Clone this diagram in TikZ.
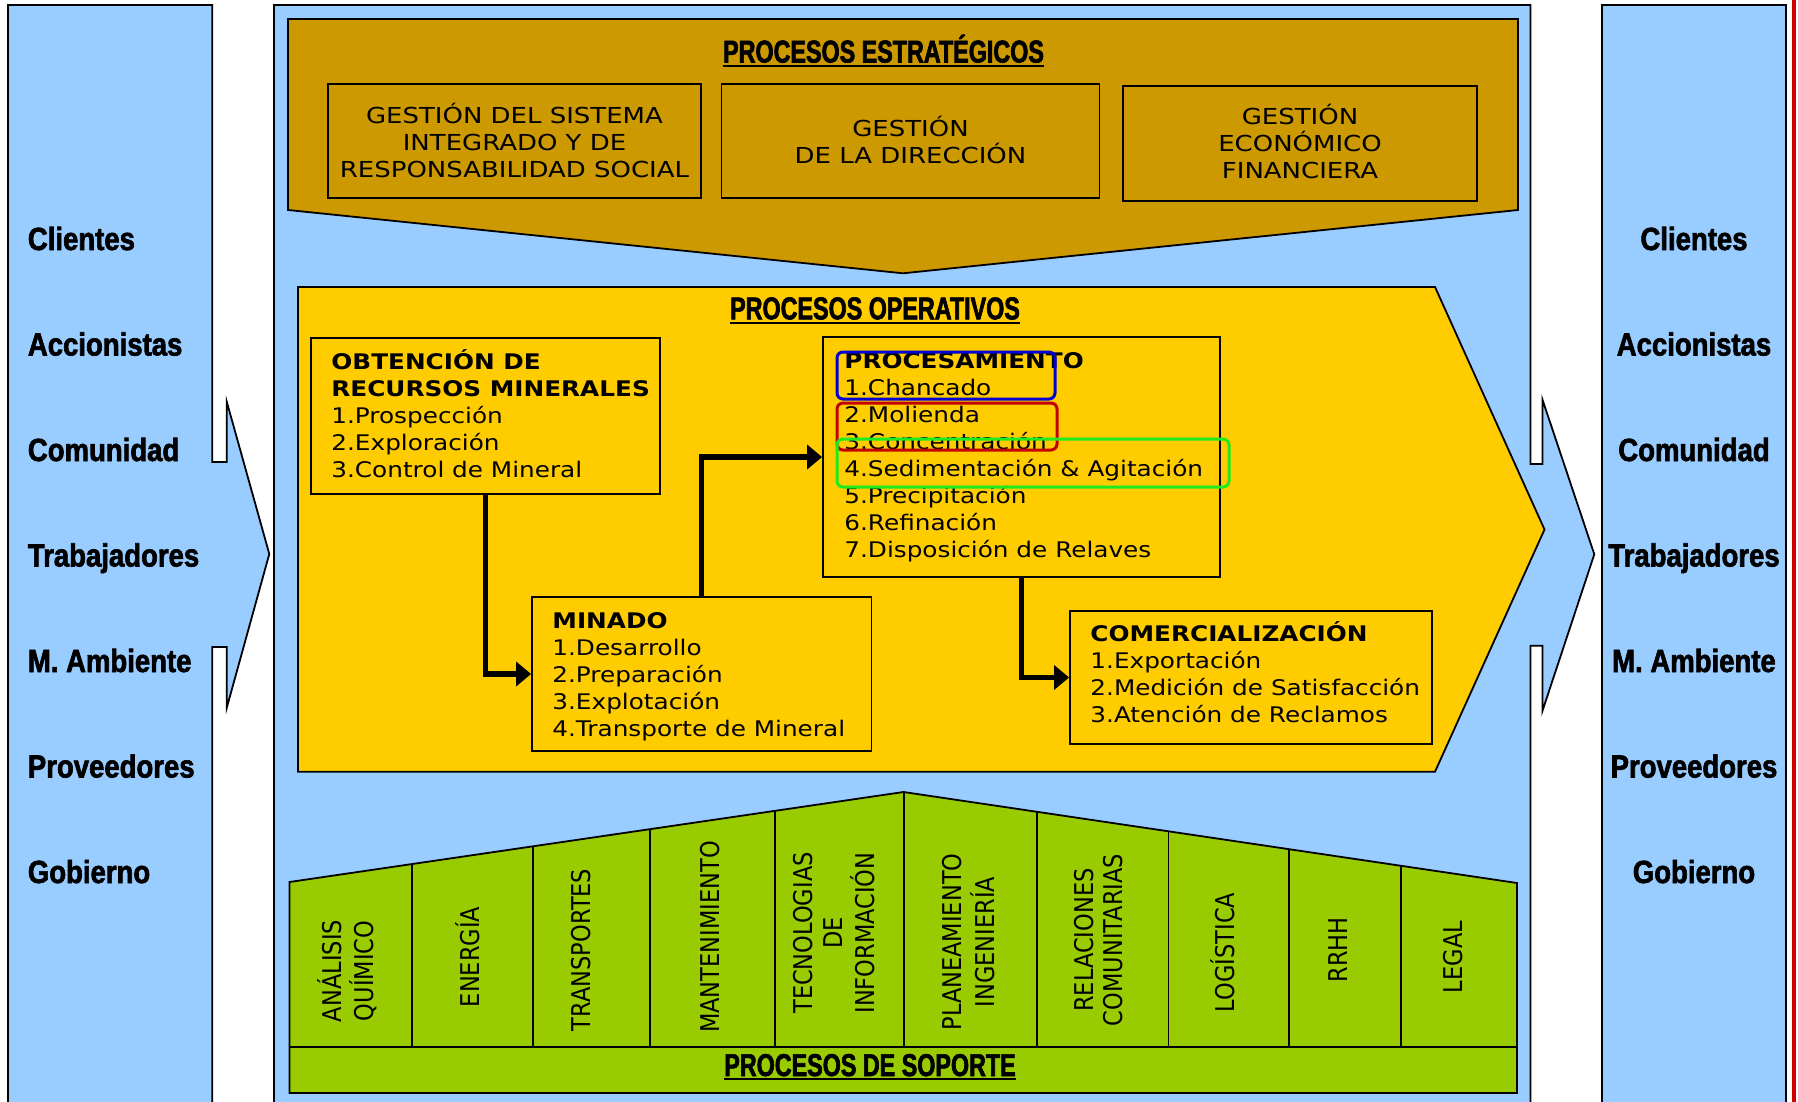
\documentclass[tikz,border=0pt]{standalone}
\usepackage{fontspec}
\usepackage{graphicx}
\usetikzlibrary{arrows.meta,fit}
\newfontfamily\vfont{DejaVu Sans}[FakeStretch=1.15]
\newfontfamily\gfont{DejaVu Sans}[FakeStretch=1.18]
\newfontfamily\rfont{DejaVu Sans}
\newfontfamily\impA{Liberation Sans}[FakeStretch=0.86, FakeBold=2]
\newfontfamily\impB{Liberation Sans}[FakeStretch=0.74, FakeBold=2]
\newcommand\suptxt[1]{\scalebox{1}[1.15]{\begin{tabular}{@{}c@{}}#1\end{tabular}}}
\definecolor{skyb}{HTML}{99CCFF}
\definecolor{brownc}{HTML}{CC9900}
\definecolor{yell}{HTML}{FFCC00}
\definecolor{grn}{HTML}{99CC00}
\definecolor{redl}{HTML}{CC0000}
\definecolor{hblue}{RGB}{0,0,210}
\definecolor{hred}{RGB}{195,0,0}
\definecolor{hgreen}{RGB}{30,235,30}
\begin{document}
\begin{tikzpicture}[x=0.5pt,y=-0.5pt,
  panel/.style={draw=black,line width=0.9pt,fill=skyb},
  zone/.style={draw=black,line width=0.9pt},
  gbox/.style={draw=black,line width=0.9pt,inner sep=0pt},
  pbox/.style={draw=black,line width=0.9pt,inner sep=0pt},
  flow/.style={line width=2.6pt,-{Triangle[length=7.5pt,width=12pt]}},
  itm/.style={anchor=base west,align=left,inner sep=0pt,font=\vfont\fontsize{10.75pt}{13.5pt}\selectfont},
  gtxt/.style={anchor=base,align=center,inner sep=0pt,font=\gfont\fontsize{11pt}{13.5pt}\selectfont},
  ttl/.style={anchor=base,inner sep=0pt,font=\impB\bfseries\fontsize{15.75pt}{18pt}\selectfont},
  uline/.style={line width=1pt},
  stk/.style={inner sep=0pt,font=\impA\bfseries\fontsize{16pt}{18pt}\selectfont},
  suplab/.style={rotate=90,inner sep=0pt,font=\rfont\fontsize{11.25pt}{12.75pt}\selectfont},
  hl/.style={line width=1.5pt,rounded corners=3pt},
  divl/.style={line width=0.9pt}
]
\useasboundingbox (0,0) rectangle (1798,1102);
\fill[white] (0,0) rectangle (1798,1102);

% side panels and main frame
\draw[panel] (8,5) -- (212.3,5) -- (212.3,462) -- (226.7,462) -- (226.7,401.5) -- (269.3,554) -- (226.7,708) -- (226.7,647) -- (212.3,647) -- (212.3,1120) -- (8,1120) -- cycle;
\draw[panel] (274,5) -- (1530.5,5) -- (1530.5,464) -- (1542.4,464) -- (1542.4,399.5) -- (1594.3,554.3) -- (1542.4,711) -- (1542.4,645.7) -- (1530.5,645.7) -- (1530.5,1120) -- (274,1120) -- cycle;
\draw[panel] (1602,5) rectangle (1786,1120);
\draw[line width=1.75pt,draw=redl] (1794,-10) -- (1794,1120);

% stakeholders
\foreach \lab/\yy/\nm in {Clientes/250/a,Accionistas/355.5/b,Comunidad/461/c,Trabajadores/566.5/d,M. Ambiente/672/e,Proveedores/777.5/f,Gobierno/883/g}{
  \node[stk,anchor=base west] (l\nm) at (27.5,\yy) {\lab};
  \node[stk,anchor=base] (r\nm) at (1694,\yy) {\lab};
}

% strategic processes
\draw[zone,fill=brownc] (288,19) -- (1518,19) -- (1518,210) -- (903,273.3) -- (288,210) -- cycle;
\node[ttl] (t1) at (883.5,62.5) {PROCESOS ESTRATÉGICOS};
\draw[uline] ([yshift=-1.7pt]t1.base west) -- ([yshift=-1.7pt]t1.base east);
\node[gbox,fit={(328,84) (701,198)}] (g1) {};
\node[gbox,fit={(721.5,84) (1099.5,198)}] (g2) {};
\node[gbox,fit={(1123,86) (1477,201)}] (g3) {};
\node[gtxt] (g1t) at (514.5,177) {GESTIÓN DEL SISTEMA\\INTEGRADO Y DE\\RESPONSABILIDAD SOCIAL};
\node[gtxt] (g2t) at (910.5,163.4) {GESTIÓN\\DE LA DIRECCIÓN};
\node[gtxt] (g3t) at (1300,178.7) {GESTIÓN\\ECONÓMICO\\FINANCIERA};

% operative processes
\draw[zone,fill=yell] (298,287) -- (1435,287) -- (1544.5,529.5) -- (1435,771.7) -- (298,771.7) -- cycle;
\node[ttl] (t2) at (875,319.3) {PROCESOS OPERATIVOS};
\draw[uline] ([yshift=-1.7pt]t2.base west) -- ([yshift=-1.7pt]t2.base east);
\node[pbox,fit={(311,338) (660,494)}] (obt) {};
\node[pbox,fit={(532,597) (871.5,751)}] (min) {};
\node[pbox,fit={(823,337) (1220,577)}] (proc) {};
\node[pbox,fit={(1070,611) (1432,744)}] (com) {};
\node[itm] (obtt) at (331,477.5) {\textbf{OBTENCIÓN DE}\\\textbf{RECURSOS MINERALES}\\1.Prospección\\2.Exploración\\3.Control de Mineral};
\node[itm] (mint) at (552,736.5) {\textbf{MINADO}\\1.Desarrollo\\2.Preparación\\3.Explotación\\4.Transporte de Mineral};
\node[itm] (proct) at (844,557) {\textbf{PROCESAMIENTO}\\1.Chancado\\2.Molienda\\3.Concentración\\4.Sedimentación \& Agitación\\5.Precipitación\\6.Refinación\\7.Disposición de Relaves};
\node[itm] (comt) at (1090,722) {\textbf{COMERCIALIZACIÓN}\\1.Exportación\\2.Medición de Satisfacción\\3.Atención de Reclamos};
\draw[flow] (obt.south) |- (min.west);
\draw[flow] (min.north) |- (proc.west);
\draw[flow] (proc.south) |- (com.west);
\draw[hl,draw=hblue] (837,352) rectangle (1055,399);
\draw[hl,draw=hred] (837,403) rectangle (1057,450);
\draw[hl,draw=hgreen] (837,439) rectangle (1229,487);

% support processes
\draw[zone,fill=grn] (289.5,882) -- (903.5,792) -- (1517,883) -- (1517,1093) -- (289.5,1093) -- cycle;
\begin{scope}
\clip (289.5,882) -- (903.5,792) -- (1517,883) -- (1517,1093) -- (289.5,1093) -- cycle;
\foreach \xx in {411.7,533.2,650,775,904,1036.6,1168.5,1288.9,1401.3} \draw[divl] (\xx,780) -- (\xx,1046.7);
\end{scope}
\draw[divl] (289.5,1046.7) -- (1517,1046.7);
\node[suplab] (s1) at (350,971) {\suptxt{ANÁLISIS\\QUÍMICO}};
\node[suplab] (s2) at (472,957) {\suptxt{ENERGÍA}};
\node[suplab] (s3) at (585,950) {\suptxt{TRANSPORTES}};
\node[suplab] (s4) at (713.5,937) {\suptxt{MANTENIMIENTO}};
\node[suplab] (s5) at (838,933) {\suptxt{TECNOLOGIAS\\DE\\INFORMACIÓN}};
\node[suplab] (s6) at (972,942) {\suptxt{PLANEAMIENTO\\INGENIERÍA}};
\node[suplab] (s7) at (1102,940) {\suptxt{RELACIONES\\COMUNITARIAS}};
\node[suplab] (s8) at (1226.8,952.5) {\suptxt{LOGÍSTICA}};
\node[suplab] (s9) at (1342,950) {\suptxt{RRHH}};
\node[suplab] (s10) at (1456.4,957) {\suptxt{LEGAL}};
\node[ttl] (t3) at (870,1076) {PROCESOS DE SOPORTE};
\draw[uline] ([yshift=-1.7pt]t3.base west) -- ([yshift=-1.7pt]t3.base east);
\end{tikzpicture}
\end{document}
